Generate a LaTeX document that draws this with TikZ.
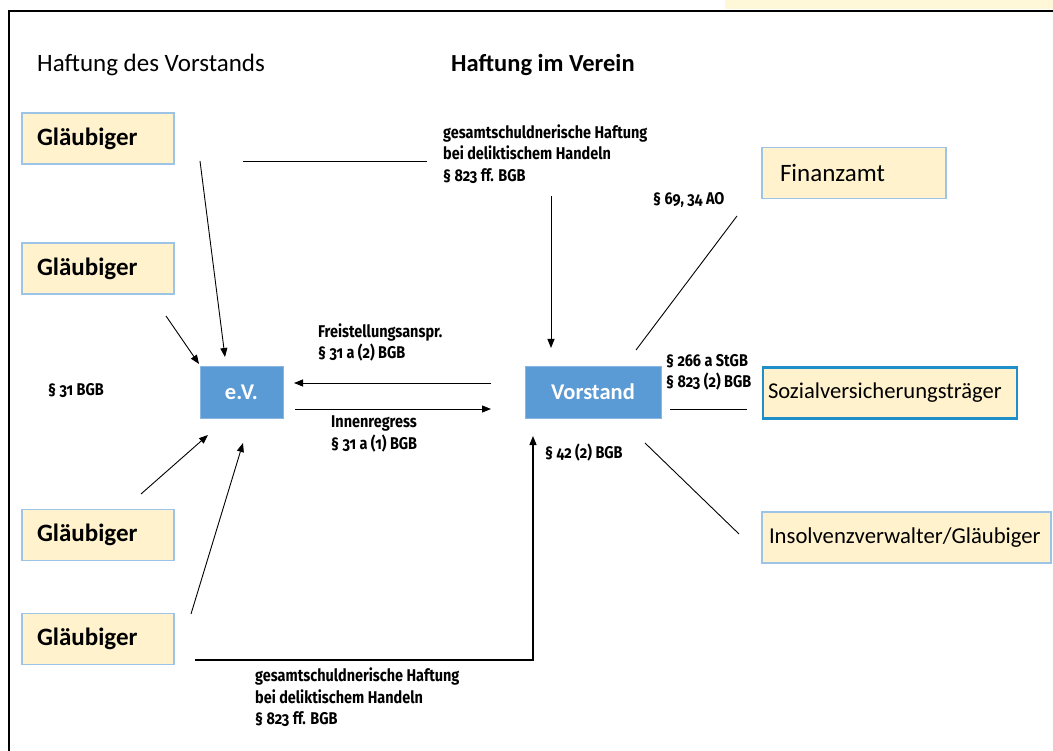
\documentclass[tikz,border=0pt]{standalone}
\usepackage{fontspec}
\setmainfont{Carlito}
\newfontfamily\lawfont[Numbers=OldStyle,FakeStretch=0.85]{Fira Sans}
\usetikzlibrary{arrows.meta}
\definecolor{boxfill}{HTML}{FFF2CC}
\definecolor{boxline}{HTML}{9DC3E6}
\definecolor{bluefill}{HTML}{5B9BD5}
\definecolor{sozline}{HTML}{1E8FC8}
\definecolor{topyellow}{HTML}{FFF8D8}
\tikzset{
  x=1pt,y=-1pt,
  gbox/.style={draw=boxline,line width=1.3pt,fill=boxfill,minimum height=51pt,inner ysep=0pt,align=left},
  glbox/.style={gbox,text width=122pt,inner xsep=15pt,font=\bfseries\fontsize{25}{29}\selectfont},
  bbox/.style={draw=boxline!70!bluefill,line width=0.8pt,fill=bluefill,minimum height=52pt,text=white,font=\bfseries\fontsize{22.5}{26}\selectfont},
  law/.style={align=left,anchor=west,inner sep=0pt,font=\lawfont\bfseries\fontsize{17}{21.5}\selectfont},
  title/.style={anchor=west,inner sep=0pt,font=\fontsize{25}{29}\selectfont},
  conn/.style={line width=0.9pt},
  arr/.style={conn,-{Triangle[length=9pt,width=7pt]}}
}
\begin{document}
\begin{tikzpicture}
\useasboundingbox (0,0) rectangle (1053,751);
\fill[topyellow] (725,0) rectangle (1053,9);
\draw[line width=2.2pt] (9,751) -- (9,11) -- (1053,11);

\node[title] (t1) at (37,65) {Haftung des Vorstands};
\node[title,font=\bfseries\fontsize{24.5}{29}\selectfont] (t2) at (451,65) {Haftung im Verein};

\node[glbox] (g1) at (98,138.5) {Gläubiger};
\node[glbox] (g2) at (98,268.5) {Gläubiger};
\node[glbox] (g3) at (98,535) {Gläubiger};
\node[glbox] (g4) at (98,639) {Gläubiger};

\node[bbox,minimum width=83pt] (ev) at (241.5,392) {e.V.};
\node[bbox,minimum width=136pt] (vs) at (593,392) {Vorstand};

\node[gbox,text width=148pt,inner xsep=18pt,font=\fontsize{25}{29}\selectfont] (fa) at (854,173) {Finanzamt};
\node[gbox,draw=sozline,line width=2.4pt,text width=244pt,inner xsep=5pt,font=\fontsize{22.6}{26}\selectfont] (sv) at (890,393) {Sozialversicherungsträger};
\node[gbox,text width=275pt,inner xsep=7pt,font=\fontsize{22.7}{26}\selectfont] (iv) at (906.5,537.5) {Insolvenzverwalter/Gläubiger};

\node[law] (l1) at (443,154) {gesamtschuldnerische Haftung\\bei deliktischem Handeln\\§ 823 ff. BGB};
\node[law] (l2) at (255,697.5) {gesamtschuldnerische Haftung\\bei deliktischem Handeln\\§ 823 ff. BGB};
\node[law] (l3) at (318,342.5) {Freistellungsanspr.\\§ 31 a (2) BGB};
\node[law] (l4) at (331,434) {Innenregress\\§ 31 a (1) BGB};
\node[law] (l5) at (545,453) {§ 42 (2) BGB};
\node[law] (l6) at (653,200) {§ 69, 34 AO};
\node[law] (l7) at (666,372.5) {§ 266 a StGB\\§ 823 (2) BGB};
\node[law] (l8) at (48,391) {§ 31 BGB};

\coordinate (c1s) at (200,161); \coordinate (c1e) at (225,357);
\coordinate (c2s) at (166,316); \coordinate (c2e) at (199,364);
\coordinate (c3s) at (141,494); \coordinate (c3e) at (208,435);
\coordinate (c4s) at (191,614); \coordinate (c4e) at (243,443);
\coordinate (c5s) at (195,660); \coordinate (c5e) at (533,436);
\coordinate (h1) at (243,161); \coordinate (h2) at (427,161);
\coordinate (d1) at (551,196); \coordinate (d2) at (551,348);
\coordinate (f1) at (491,383); \coordinate (f2) at (294,383);
\coordinate (i1) at (295,409); \coordinate (i2) at (491,409);
\coordinate (a1) at (737,216); \coordinate (a2) at (636,350);
\coordinate (s1) at (670,409); \coordinate (s2) at (747,409);
\coordinate (n1) at (645,443); \coordinate (n2) at (739,534);

\draw[arr] (c1s) -- (c1e);
\draw[arr] (c2s) -- (c2e);
\draw[arr] (c3s) -- (c3e);
\draw[arr] (c4s) -- (c4e);
\draw[arr,line width=1.3pt] (c5s) -| (c5e);
\draw[conn] (h1) -- (h2);
\draw[arr] (d1) -- (d2);
\draw[arr] (f1) -- (f2);
\draw[arr] (i1) -- (i2);
\draw[conn] (a1) -- (a2);
\draw[conn] (s1) -- (s2);
\draw[conn] (n1) -- (n2);
\end{tikzpicture}
\end{document}
